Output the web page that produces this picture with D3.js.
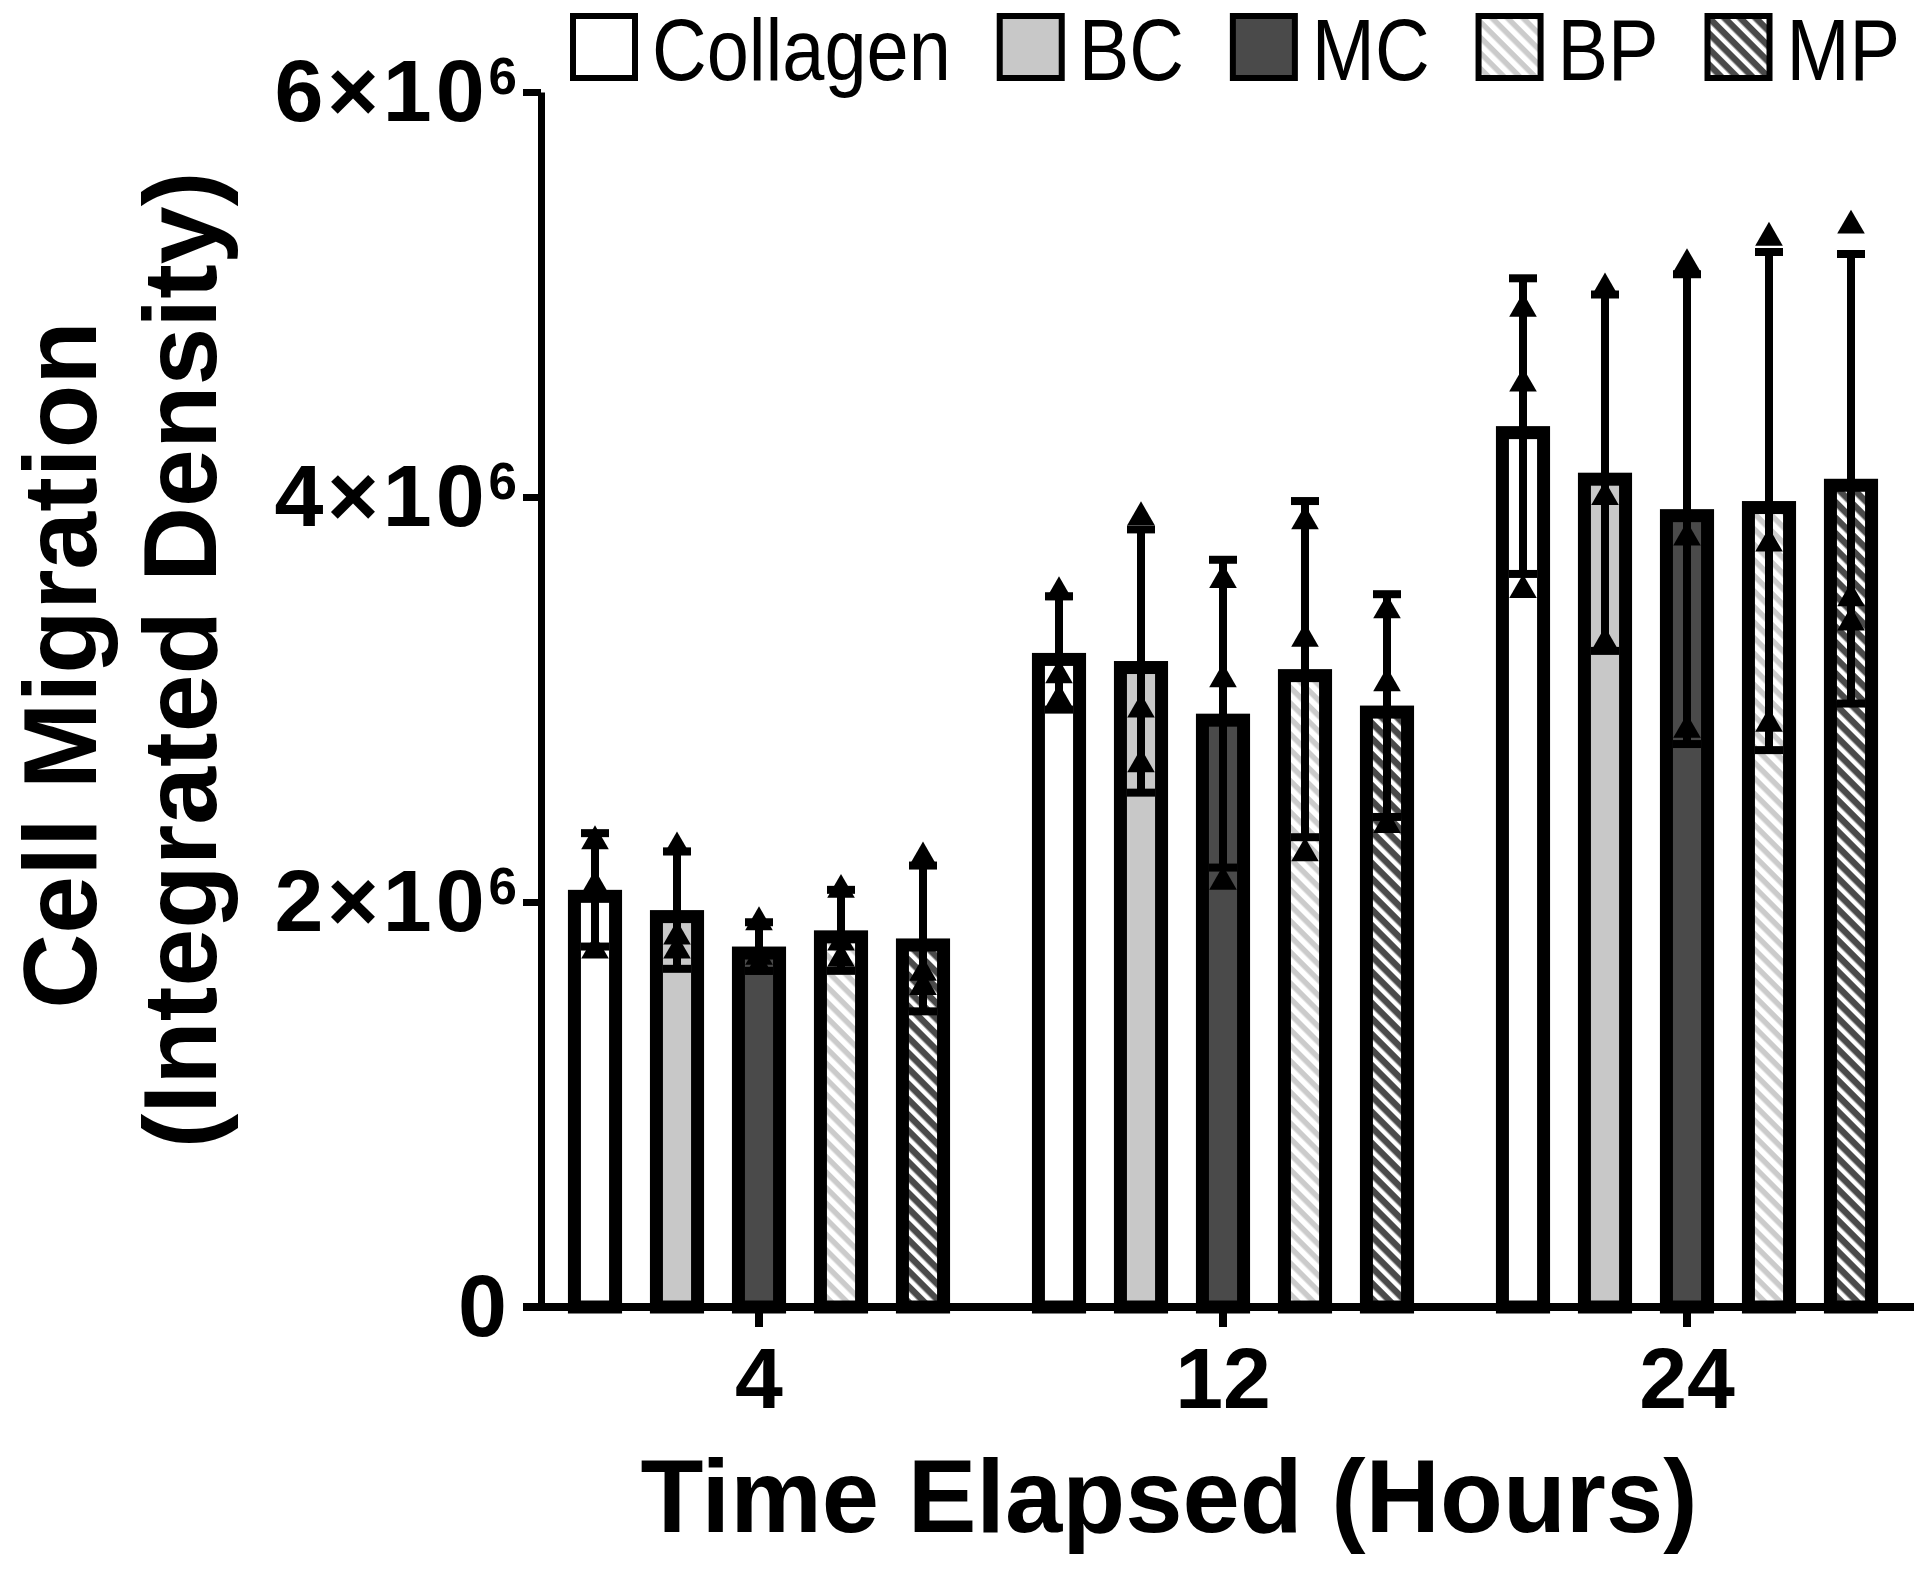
<!DOCTYPE html>
<html>
<head>
<meta charset="utf-8">
<script src="https://cdn.jsdelivr.net/npm/d3@7"></script>
<style>
body { margin: 0; background: #fff; }
svg { display: block; font-family: "Liberation Sans", Arial, sans-serif; }
</style>
</head>
<body>
<svg id="chart" width="1920" height="1571"></svg>
<script>
// time points (hours) and treatment groups
var timePoints = ["4", "12", "24"];
var seriesNames = ["Collagen", "BC", "MC", "BP", "MP"];

// group means at 4, 12, 24 h
var collagenMean = [2.06e6, 3.23e6, 4.35e6];
var bcMean       = [1.96e6, 3.19e6, 4.12e6];
var mcMean       = [1.78e6, 2.93e6, 3.94e6];
var bpMean       = [1.86e6, 3.15e6, 3.98e6];
var mpMean       = [1.82e6, 2.97e6, 4.09e6];

// error bars (SD)
var collagenSD = [0.28e6, 0.28e6, 0.73e6];
var bcSD       = [0.29e6, 0.65e6, 0.88e6];
var mcSD       = [0.12e6, 0.76e6, 1.16e6];
var bpSD       = [0.20e6, 0.83e6, 1.23e6];
var mpSD       = [0.36e6, 0.55e6, 1.11e6];

// replicates, drawn as triangles
var collagenPts = [[2.30e6, 2.08e6, 1.76e6], [3.53e6, 3.12e6, 3.00e6], [4.93e6, 4.56e6, 3.54e6]];
var bcPts       = [[2.27e6, 1.83e6, 1.76e6], [3.90e6, 2.95e6, 2.68e6], [5.03e6, 4.00e6, 3.28e6]];
var mcPts       = [[1.90e6, 1.73e6, 1.68e6], [3.59e6, 3.10e6, 2.10e6], [5.15e6, 3.80e6, 2.85e6]];
var bpPts       = [[2.06e6, 1.80e6, 1.72e6], [3.88e6, 3.30e6, 2.24e6], [5.28e6, 3.77e6, 2.88e6]];
var mpPts       = [[2.22e6, 1.65e6, 1.58e6], [3.44e6, 3.08e6, 2.38e6], [5.34e6, 3.50e6, 3.38e6]];

var yTicks = [0, 2e6, 4e6, 6e6];

var means = [collagenMean, bcMean, mcMean, bpMean, mpMean];
var sds = [collagenSD, bcSD, mcSD, bpSD, mpSD];
var pts = [collagenPts, bcPts, mcPts, bpPts, mpPts];
var fills = ["#ffffff", "#c8c8c8", "#4a4a4a", "url(#bpHatch)", "url(#mpHatch)"];

var svg = d3.select("#chart");
var barStroke = 13;

// hatches, both running top-left to bottom-right
var defs = svg.append("defs");
function hatch(id, bg, fg, fgWidth)
{
    var p = defs.append("pattern")
        .attr("id", id)
        .attr("patternUnits", "userSpaceOnUse")
        .attr("width", 11)
        .attr("height", 11)
        .attr("patternTransform", "rotate(45)");
    p.append("rect").attr("width", 11).attr("height", 11).attr("fill", bg);
    p.append("rect").attr("width", 11).attr("height", fgWidth).attr("fill", fg);
}
hatch("bpHatch", "#ffffff", "#cbcbcb", 5.5);
hatch("mpHatch", "#ffffff", "#4a4a4a", 6.5);

var y = d3.scaleLinear().domain([0, 6e6]).range([1307, 92]);
var x0 = d3.scaleBand().domain(timePoints).range([527, 1919]);
var x1 = d3.scaleBand().domain(seriesNames).range([-205, 205])
    .paddingInner(0.34).paddingOuter(0.17);

// flatten into one record per bar
var bars = [];
seriesNames.forEach(function(s, si) {
    timePoints.forEach(function(t, ti) {
        bars.push({
            series: s,
            time: t,
            mean: means[si][ti],
            sd: sds[si][ti],
            pts: pts[si][ti],
            fill: fills[si],
            cx: x0(t) + x0.bandwidth() / 2 + x1(s) + x1.bandwidth() / 2
        });
    });
});

// bars: value sits on the outer edge of the thick border
svg.append("g").selectAll("rect")
    .data(bars)
  .enter().append("rect")
    .attr("x", function(d) { return d.cx - x1.bandwidth() / 2 + barStroke / 2; })
    .attr("y", function(d) { return y(d.mean) + barStroke / 2; })
    .attr("width", x1.bandwidth() - barStroke)
    .attr("height", function(d) { return y(0) - y(d.mean) - barStroke / 2; })
    .attr("fill", function(d) { return d.fill; })
    .attr("stroke", "#000")
    .attr("stroke-width", barStroke);

// error bars
var err = svg.append("g").attr("stroke", "#000").attr("stroke-width", 8);
err.selectAll(".stem")
    .data(bars)
  .enter().append("line")
    .attr("x1", function(d) { return d.cx; })
    .attr("x2", function(d) { return d.cx; })
    .attr("y1", function(d) { return y(d.mean - d.sd); })
    .attr("y2", function(d) { return y(d.mean + d.sd); });

var caps = [];
bars.forEach(function(d) {
    caps.push({ cx: d.cx, v: d.mean + d.sd });
    caps.push({ cx: d.cx, v: d.mean - d.sd });
});
err.selectAll(".cap")
    .data(caps)
  .enter().append("line")
    .attr("x1", function(d) { return d.cx - 14; })
    .attr("x2", function(d) { return d.cx + 14; })
    .attr("y1", function(d) { return y(d.v); })
    .attr("y2", function(d) { return y(d.v); });

// replicate triangles
var dots = [];
bars.forEach(function(d) {
    d.pts.forEach(function(v) { dots.push({ cx: d.cx, v: v }); });
});
svg.append("g").selectAll("path")
    .data(dots)
  .enter().append("path")
    .attr("d", d3.symbol().type(d3.symbolTriangle).size(330))
    .attr("transform", function(d) { return "translate(" + d.cx + "," + y(d.v) + ")"; })
    .attr("fill", "#000");

// y axis
var yAxis = d3.axisLeft(y)
    .tickValues(yTicks)
    .tickSize(18)
    .tickSizeOuter(0)
    .tickPadding(2)
    .tickFormat("");
var gy = svg.append("g")
    .attr("transform", "translate(541,0)")
    .call(yAxis);
gy.select(".domain").attr("stroke", "#000").attr("stroke-width", 7);
gy.selectAll(".tick line").attr("stroke", "#000").attr("stroke-width", 7);
var yLabelSize = 88;
gy.selectAll(".tick text").each(function(d) {
    var t = d3.select(this)
        .attr("font-size", yLabelSize)
        .attr("font-weight", "bold")
        .attr("fill", "#000")
        .attr("font-family", "Liberation Sans, Arial, sans-serif")
        .attr("letter-spacing", 4);
    if (d === 0) { t.attr("dx", -10).text("0"); return; }
    t.append("tspan").text((d / 1e6) + "\u00d710");
    t.append("tspan")
        .attr("font-size", yLabelSize * 0.58)
        .attr("dy", -0.716 * yLabelSize * 0.42)
        .text("6");
});

// x axis
var xAxis = d3.axisBottom(x0).tickSize(20).tickSizeOuter(0).tickPadding(20);
var gx = svg.append("g")
    .attr("transform", "translate(0," + y(0) + ")")
    .call(xAxis);
gx.select(".domain")
    .attr("d", "M" + (541 - 18) + ",0H1914")
    .attr("stroke", "#000")
    .attr("stroke-width", 8);
gx.selectAll(".tick line").attr("stroke", "#000").attr("stroke-width", 8);
gx.selectAll(".tick text")
    .attr("font-size", 86)
    .attr("font-weight", "bold")
    .attr("fill", "#000")
    .attr("font-family", "Liberation Sans, Arial, sans-serif");

// axis titles
svg.append("text")
    .attr("x", 1169)
    .attr("y", 1532)
    .attr("text-anchor", "middle")
    .attr("font-size", 103)
    .attr("font-weight", "bold")
    .text("Time Elapsed (Hours)");

svg.append("text")
    .attr("transform", "translate(96,665) rotate(-90)")
    .attr("text-anchor", "middle")
    .attr("font-size", 104)
    .attr("font-weight", "bold")
    .text("Cell Migration");

svg.append("text")
    .attr("transform", "translate(216,660) rotate(-90)")
    .attr("text-anchor", "middle")
    .attr("font-size", 104)
    .attr("font-weight", "bold")
    .text("(Integrated Density)");

// legend across the top
var legend = svg.append("g");
var lx = 570;
seriesNames.forEach(function(s, i) {
    legend.append("rect")
        .attr("x", lx + 3)
        .attr("y", 16)
        .attr("width", 62)
        .attr("height", 62)
        .attr("fill", fills[i])
        .attr("stroke", "#000")
        .attr("stroke-width", 6);
    var t = legend.append("text")
        .attr("x", lx + 82)
        .attr("y", 80)
        .attr("font-size", 88)
        .text(s);
    var w = t.node().getComputedTextLength() * 0.86;
    t.attr("textLength", w).attr("lengthAdjust", "spacingAndGlyphs");
    lx += 82 + w + 46;
});
</script>
</body>
</html>
